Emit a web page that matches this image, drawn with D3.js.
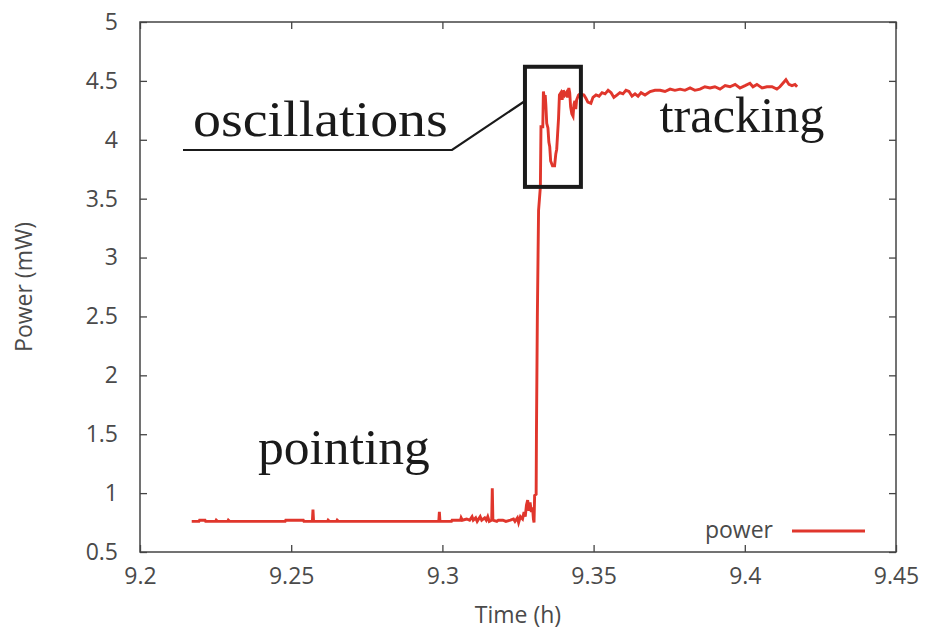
<!DOCTYPE html>
<html>
<head>
<meta charset="utf-8">
<script src="https://cdn.jsdelivr.net/npm/d3@7"></script>
<style>
  body { margin: 0; background: #fff; }
  svg { display: block; }
</style>
</head>
<body>
<script>
// time (h) and power (mW)
var timeH = [
  9.2171, 9.2195, 9.2197, 9.2215, 9.2217, 9.2250, 9.2252, 9.2256, 9.2290, 9.2292, 9.2296,
  9.2480, 9.2482, 9.2540, 9.2542, 9.2570, 9.2572, 9.2574, 9.2620, 9.2622, 9.2626, 9.2650, 9.2652, 9.2656,
  9.2988, 9.2990, 9.2992, 9.3030, 9.3032, 9.3060, 9.3062, 9.3066, 9.3080, 9.3090, 9.3098, 9.3102,
  9.3110, 9.3115, 9.3125, 9.3130, 9.3140, 9.3145, 9.3150, 9.3155, 9.3163, 9.3165, 9.3167,
  9.3180, 9.3185, 9.3200, 9.3210, 9.3225, 9.3235, 9.3240, 9.3248, 9.3252, 9.3258, 9.3265,
  9.3270, 9.3274, 9.3278, 9.3282, 9.3286, 9.3290, 9.3294, 9.3298, 9.3301, 9.3303, 9.3305,
  9.3310, 9.3311, 9.3314, 9.3318, 9.3324, 9.3326, 9.3332, 9.3334, 9.3337, 9.3340, 9.3342,
  9.3345, 9.3349, 9.3352, 9.3355, 9.3358, 9.3364, 9.3371, 9.3375, 9.3378, 9.3381, 9.3384,
  9.3387, 9.3392, 9.3396, 9.3400, 9.3405, 9.3410, 9.3414, 9.3418, 9.3421, 9.3424, 9.3428,
  9.3432, 9.3435, 9.3438, 9.3441, 9.3444, 9.3450,
  9.3455, 9.3468, 9.3475, 9.3481, 9.3491, 9.3498, 9.3508, 9.3518, 9.3528, 9.3538, 9.3548,
  9.3558, 9.3567, 9.3577, 9.3587, 9.3597, 9.3607, 9.3617, 9.3627, 9.3637, 9.3647, 9.3657,
  9.3670, 9.3687, 9.3703, 9.3720, 9.3736, 9.3753, 9.3769, 9.3786, 9.3802, 9.3819, 9.3835,
  9.3852, 9.3868, 9.3885, 9.3901, 9.3918, 9.3935, 9.3951, 9.3968, 9.3984, 9.4001, 9.4017,
  9.4027, 9.4040, 9.4057, 9.4073, 9.4090, 9.4106, 9.4116, 9.4126, 9.4136, 9.4146, 9.4156,
  9.4166, 9.4173
]
var powerMW = [
  0.76, 0.76, 0.77, 0.77, 0.76, 0.76, 0.77, 0.76, 0.76, 0.77, 0.76,
  0.76, 0.77, 0.77, 0.76, 0.76, 0.86, 0.76, 0.76, 0.77, 0.76, 0.76, 0.77, 0.76,
  0.76, 0.84, 0.76, 0.76, 0.77, 0.77, 0.79, 0.77, 0.78, 0.77, 0.80, 0.77,
  0.79, 0.76, 0.80, 0.77, 0.79, 0.77, 0.80, 0.76, 0.77, 1.04, 0.77,
  0.76, 0.77, 0.77, 0.76, 0.77, 0.78, 0.76, 0.79, 0.75, 0.80, 0.78,
  0.84, 0.80, 0.90, 0.94, 0.85, 0.92, 0.84, 0.88, 0.78, 0.75, 0.98,
  0.99, 1.50, 2.50, 3.40, 3.60, 4.11, 4.11, 4.41, 4.35, 4.38, 4.30,
  4.14, 4.10, 3.98, 3.94, 3.82, 3.78, 3.78, 3.88, 3.92, 4.05, 4.18,
  4.38, 4.40, 4.34, 4.42, 4.38, 4.40, 4.36, 4.44, 4.40, 4.28, 4.22,
  4.20, 4.30, 4.33, 4.26, 4.34, 4.38,
  4.39, 4.38, 4.35, 4.32, 4.31, 4.36, 4.38, 4.37, 4.40, 4.39, 4.42,
  4.40, 4.36, 4.38, 4.40, 4.39, 4.42, 4.41, 4.37, 4.39, 4.37, 4.40,
  4.38, 4.41, 4.42, 4.42, 4.41, 4.43, 4.42, 4.43, 4.42, 4.44, 4.42,
  4.43, 4.45, 4.44, 4.45, 4.43, 4.46, 4.45, 4.47, 4.44, 4.46, 4.48,
  4.45, 4.47, 4.44, 4.45, 4.45, 4.43, 4.45, 4.48, 4.51, 4.47, 4.46,
  4.47, 4.45
]
var xTicks = [9.2, 9.25, 9.3, 9.35, 9.4, 9.45]
var yTicks = [0.5, 1, 1.5, 2, 2.5, 3, 3.5, 4, 4.5, 5]
var seriesName = "power"
// annotation labels: [text, time, power]
var notes = [["oscillations", 9.2175, 4.03], ["tracking", 9.3718, 4.07], ["pointing", 9.2390, 1.25]]
// callout box corners in data units
var boxT = [9.3273, 9.3458]
var boxP = [3.60, 4.62]

var W = 925, H = 631
var m = {left: 140, right: 29, top: 22, bottom: 79}
var red = "#e0362c", axisCol = "#444"
var labelFont = "'Open Sans', sans-serif"

var svg = d3.select("body").append("svg").attr("width", W).attr("height", H)
var x = d3.scaleLinear().domain([9.2, 9.45]).range([m.left, W - m.right])
var y = d3.scaleLinear().domain([0.5, 5]).range([H - m.bottom, m.top])

function styleAxis(g) {
  g.select(".domain").remove()
  g.selectAll(".tick line").attr("stroke", axisCol).attr("stroke-width", 1.3)
  g.selectAll(".tick text").attr("fill", "#4a4a4a").style("font-family", labelFont).style("font-size", "23px")
}

svg.append("g").attr("transform", "translate(" + m.left + ",0)")
  .call(d3.axisLeft(y).tickValues(yTicks).tickSize(-7).tickPadding(22).tickFormat(d3.format("")))
  .call(styleAxis)
svg.append("g").attr("transform", "translate(" + (W - m.right) + ",0)")
  .call(d3.axisRight(y).tickValues(yTicks).tickSize(-7).tickFormat(""))
  .call(styleAxis)
svg.append("g").attr("transform", "translate(0," + (H - m.bottom) + ")")
  .call(d3.axisBottom(x).tickValues(xTicks).tickSize(-7).tickPadding(16).tickFormat(d3.format("")))
  .call(styleAxis)
svg.append("g").attr("transform", "translate(0," + m.top + ")")
  .call(d3.axisTop(x).tickValues(xTicks).tickSize(-7).tickFormat(""))
  .call(styleAxis)

svg.append("rect")
  .attr("x", m.left).attr("y", m.top)
  .attr("width", W - m.left - m.right).attr("height", H - m.top - m.bottom)
  .attr("fill", "none").attr("stroke", axisCol).attr("stroke-width", 1.5)

// axis titles
svg.append("text")
  .attr("transform", "translate(32," + ((m.top + H - m.bottom) / 2) + ") rotate(-90)")
  .attr("text-anchor", "middle")
  .style("font-family", labelFont).style("font-size", "23px").attr("fill", "#4a4a4a")
  .text("Power (mW)")
svg.append("text")
  .attr("x", (m.left + W - m.right) / 2).attr("y", 623)
  .attr("text-anchor", "middle")
  .style("font-family", labelFont).style("font-size", "23px").attr("fill", "#4a4a4a")
  .text("Time (h)")

// the series
var pts = timeH.map(function(t, i){ return [t, powerMW[i]] })
svg.append("path")
  .datum(pts)
  .attr("fill", "none")
  .attr("stroke", red)
  .attr("stroke-width", 2.9)
  .attr("stroke-linejoin", "miter")
  .attr("d", d3.line().x(function(d){ return x(d[0]) }).y(function(d){ return y(d[1]) }))

// legend
svg.append("text")
  .attr("x", 773).attr("y", 538)
  .attr("text-anchor", "end")
  .style("font-family", labelFont).style("font-size", "23px").attr("fill", "#4a4a4a")
  .text(seriesName)
svg.append("line")
  .attr("x1", 792).attr("x2", 865).attr("y1", 531).attr("y2", 531)
  .attr("stroke", red).attr("stroke-width", 3)

// callout
svg.append("rect")
  .attr("x", x(boxT[0])).attr("y", y(boxP[1]))
  .attr("width", x(boxT[1]) - x(boxT[0])).attr("height", y(boxP[0]) - y(boxP[1]))
  .attr("fill", "none").attr("stroke", "#1a1a1a").attr("stroke-width", 4)
svg.append("polyline")
  .attr("points", [[183, 150], [452, 150], [x(boxT[0]), 101]].join(" "))
  .attr("fill", "none").attr("stroke", "#1a1a1a").attr("stroke-width", 2.2)

var widths = {oscillations: 255, tracking: 165, pointing: 172}
svg.selectAll("text.note")
  .data(notes)
  .enter()
  .append("text")
  .attr("class", "note")
  .attr("x", function(d){ return x(d[1]) })
  .attr("y", function(d){ return y(d[2]) })
  .attr("textLength", function(d){ return widths[d[0]] })
  .attr("lengthAdjust", "spacingAndGlyphs")
  .style("font-family", "'Liberation Serif', serif")
  .style("font-size", "50px")
  .attr("fill", "#1a1a1a")
  .text(function(d){ return d[0] })
</script>
</body>
</html>
